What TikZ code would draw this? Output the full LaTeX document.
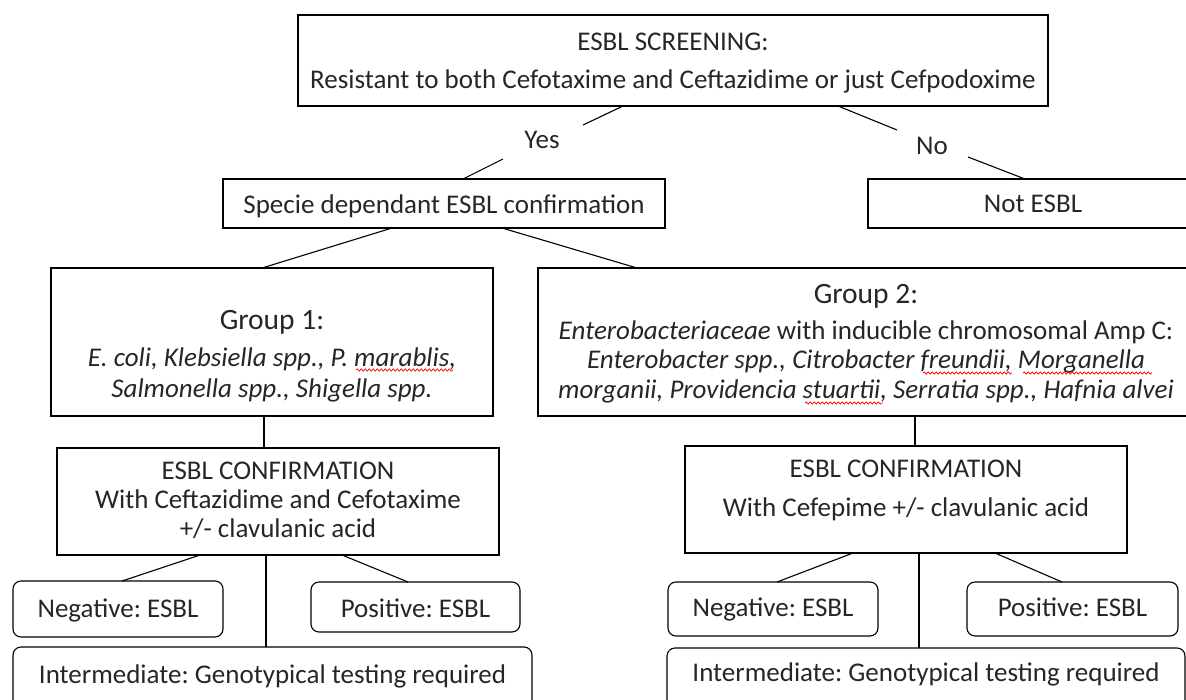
\documentclass[tikz,border=0pt]{standalone}
\usepackage{fontspec}
\setmainfont{Carlito}
\usetikzlibrary{decorations.pathmorphing}
\newcommand{\bx}[5]{\parbox[c][#2pt][t]{#1pt}{\centering\frenchspacing\fontsize{27}{#4}\selectfont\lineskiplimit=-200pt\relax\rule{0pt}{#3pt}#5\par}}
\begin{document}
\begin{tikzpicture}[x=1pt,y=-1pt,
  box/.style={draw, line width=1.1pt, inner sep=0pt, outer sep=0pt, text=black!85},
  rbox/.style={box, rounded corners=8pt},
  conn/.style={line width=1.1pt},
  wave/.style={red, line width=0.7pt, decorate, decoration={snake, amplitude=1.2pt, segment length=4pt}},
  lbl/.style={font=\fontsize{27}{32}\selectfont, inner sep=0pt, text=black!85}]
\useasboundingbox (0,0) rectangle (1186,699);

\node[box] (top) at (673,60.5) {\bx{750}{91}{35}{38}{ESBL SCREENING:\\Resistant to both Cefotaxime and Ceftazidime or just Cefpodoxime}};
\node[box] (spec) at (444,203.5) {\bx{442}{49}{34}{30}{Specie dependant ESBL confirmation}};
\node[box] (notesbl) at (1033,203.5) {\bx{330}{49}{33}{30}{Not ESBL}};
\node[box] (g1) at (272,342) {\bx{442}{148}{61}{31}{{\fontsize{29.5}{31}\selectfont Group 1:}\\[6pt]\itshape E. coli, Klebsiella spp., P. marablis,\\Salmonella spp., Shigella spp.}};
\node[box] (g2) at (866,342) {\bx{656}{148}{35}{29.5}{{\fontsize{29.5}{31}\selectfont Group 2:}\\[6.5pt]\textit{Enterobacteriaceae} with inducible chromosomal Amp C:\\\itshape Enterobacter spp., Citrobacter freundii, Morganella\\morganii, Providencia stuartii, Serratia spp., Hafnia alvei}};
\node[box] (c1) at (278,501.5) {\bx{442}{107}{31}{29}{ESBL CONFIRMATION\\With Ceftazidime and Cefotaxime\\+/- clavulanic acid}};
\node[box] (c2) at (906,499.5) {\bx{442}{107}{31}{39}{ESBL CONFIRMATION\\With Cefepime +/- clavulanic acid}};
\node[rbox] (n1) at (118,609) {\bx{210}{56}{36}{30}{Negative: ESBL}};
\node[rbox] (p1) at (415.5,607) {\bx{209}{50}{35}{30}{Positive: ESBL}};
\node[rbox] (i1) at (272.5,679.5) {\bx{519}{65}{36}{30}{Intermediate: Genotypical testing required}};
\node[rbox] (n2) at (773,609) {\bx{210}{54}{34}{30}{Negative: ESBL}};
\node[rbox] (p2) at (1072.5,609) {\bx{211}{54}{34}{30}{Positive: ESBL}};
\node[rbox] (i2) at (926,680) {\bx{518}{64}{33}{30}{Intermediate: Genotypical testing required}};

\node[lbl, anchor=base] (yes) at (542,148) {Yes};
\node[lbl, anchor=base] (no) at (932,154) {No};

\coordinate (yesA) at (583,125);
\coordinate (yesB) at (503,159);
\coordinate (noA) at (897,130);
\coordinate (noB) at (968,157);

\draw[conn] (top.south -| 623,0) -- (yesA);
\draw[conn] (yesB) -- (spec.north -| 463,0);
\draw[conn] (top.south -| 838,0) -- (noA);
\draw[conn] (noB) -- (notesbl.north -| 1025,0);
\draw[conn] (spec.south -| 392,0) -- (g1.north -| 262,0);
\draw[conn] (spec.south -| 502,0) -- (g2.north -| 637,0);
\draw[conn] (g1.south -| 264,0) -- (c1.north -| 264,0);
\draw[conn] (c1.south -| 200,0) -- (n1.north -| 122,0);
\draw[conn] (c1.south -| 342,0) -- (p1.north -| 408,0);
\draw[conn] (c1.south -| 266,0) -- (i1.north -| 266,0);
\draw[conn] (g2.south -| 915,0) -- (c2.north -| 915,0);
\draw[conn] (c2.south -| 853,0) -- (n2.north -| 777,0);
\draw[conn] (c2.south -| 995,0) -- (p2.north -| 1062,0);
\draw[conn] (c2.south -| 919,0) -- (i2.north -| 919,0);

\draw[wave] (356,370) -- (453,370);
\draw[wave] (923,373) -- (1012,373);
\draw[wave] (1023,373) -- (1152,373);
\draw[wave] (805,403) -- (883,403);
\end{tikzpicture}
\end{document}
